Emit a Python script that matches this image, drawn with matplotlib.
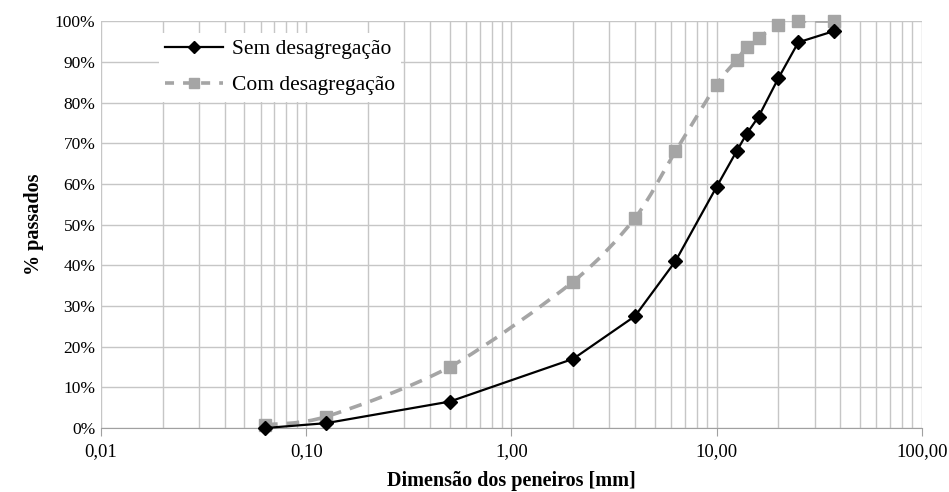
import numpy as np
import matplotlib
matplotlib.use("Agg")
import matplotlib.pyplot as plt
from matplotlib.path import Path
from matplotlib.patches import PathPatch
from matplotlib.lines import Line2D
from matplotlib.ticker import FixedLocator, FuncFormatter, LogLocator, NullFormatter

plt.rcParams['font.family'] = ['Liberation Serif', 'DejaVu Serif']

# abertura das peneiras [mm] e porcentagem passante
peneiras = [0.063, 0.125, 0.5, 2.0, 4.0, 6.3, 10.0, 12.5, 14.0, 16.0, 20.0, 25.0, 37.5]
sem_desag = [0.0, 1.2, 6.5, 17.0, 27.5, 41.0, 59.3, 68.0, 72.3, 76.5, 86.0, 94.8, 97.6]
com_desag = [0.8, 2.8, 15.0, 36.0, 51.6, 68.0, 84.4, 90.4, 93.6, 95.9, 99.1, 100.0, 100.0]

y_ticks = list(range(0, 101, 10))
x_ticks = [0.01, 0.1, 1, 10, 100]


def curva_suave(x, y, tensao=1 / 6):
    # curva de Bezier (tipo Catmull-Rom) calculada em log10(x)
    lx = np.log10(x)
    y = np.asarray(y, dtype=float)
    pts = np.column_stack([lx, y])
    verts = [pts[0]]
    codes = [Path.MOVETO]
    n = len(pts)
    for i in range(n - 1):
        p0 = pts[i - 1] if i > 0 else pts[i]
        p1 = pts[i]
        p2 = pts[i + 1]
        p3 = pts[i + 2] if i + 2 < n else pts[i + 1]
        c1 = p1 + (p2 - p0) * tensao
        c2 = p2 - (p3 - p1) * tensao
        verts += [c1, c2, p2]
        codes += [Path.CURVE4] * 3
    verts = np.array(verts)
    verts[:, 0] = 10 ** verts[:, 0]
    return Path(verts, codes)


fig = plt.figure(figsize=(9.49, 4.92), dpi=100)
ax = fig.add_axes([0.1064, 0.130, 0.865, 0.827])
ax.set_xscale('log')
ax.set_xlim(0.01, 100)
ax.set_ylim(0, 100)

cinza_grade = '#c6c6c6'
ax.xaxis.set_major_locator(FixedLocator(x_ticks))
ax.xaxis.set_minor_locator(LogLocator(base=10, subs=np.arange(2, 10)))
ax.xaxis.set_minor_formatter(NullFormatter())
ax.xaxis.set_major_formatter(FuncFormatter(lambda v, p: f'{v:.2f}'.replace('.', ',')))
ax.yaxis.set_major_locator(FixedLocator(y_ticks))
ax.yaxis.set_major_formatter(FuncFormatter(lambda v, p: f'{v:.0f}%'))

ax.grid(True, which='both', axis='x', color=cinza_grade, lw=1.0)
ax.grid(True, which='major', axis='y', color=cinza_grade, lw=1.0)
ax.set_axisbelow(True)

for s in ['top', 'right', 'left']:
    ax.spines[s].set_visible(False)
ax.spines['bottom'].set_color('#a0a0a0')
ax.tick_params(axis='x', which='major', length=6, color='#a0a0a0', labelsize=13.5, pad=5)
ax.tick_params(axis='x', which='minor', length=0)
ax.tick_params(axis='y', length=0, labelsize=12.5, pad=4)

cinza = '#a5a5a5'
ax.add_patch(PathPatch(curva_suave(peneiras, com_desag, tensao=0.14), fill=False, ec=cinza,
                       lw=2.6, ls=(0, (3.5, 2.5)), zorder=3))
ax.plot(peneiras, com_desag, ls='none', marker='s', ms=8, color=cinza, zorder=4,
        clip_on=False)
ax.plot(peneiras, sem_desag, color='black', lw=1.6, marker='D', ms=7, zorder=6,
        clip_on=False)

ax.set_xlabel('Dimensão dos peneiros [mm]', fontsize=14.5, fontweight='bold', labelpad=8)
ax.set_ylabel('% passados', fontsize=14.5, fontweight='bold', labelpad=8)

handles = [
    Line2D([], [], color='black', lw=1.6, marker='D', ms=6),
    Line2D([], [], color=cinza, lw=2.6, ls=(0, (2.5, 2.5)), marker='s', ms=7),
]
leg = ax.legend(handles, ['Sem desagregação', 'Com desagregação'], loc='upper left',
                bbox_to_anchor=(0.057, 0.998), frameon=True, fancybox=False,
                edgecolor='none', facecolor='white', framealpha=1.0,
                fontsize=15.5, handlelength=2.7, borderpad=0.3, labelspacing=0.75,
                handletextpad=0.4)

fig.savefig('out.png', dpi=100)
